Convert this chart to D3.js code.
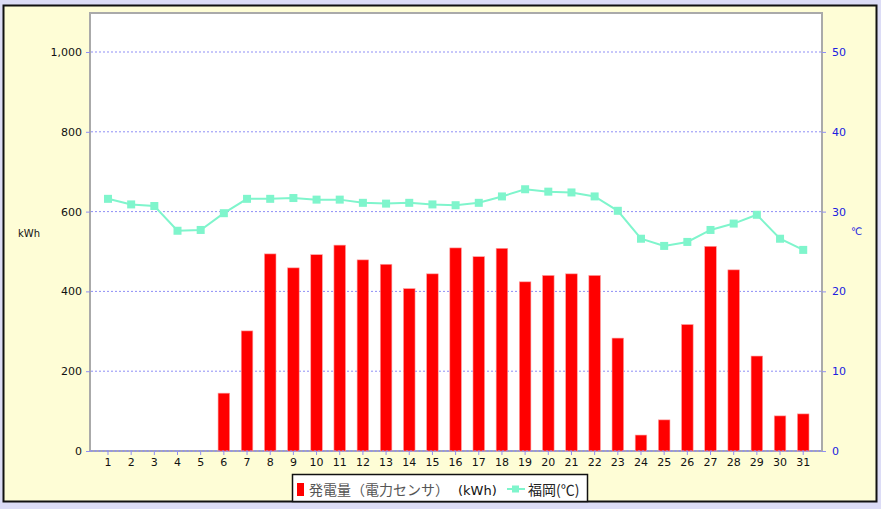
<!DOCTYPE html>
<html><head><meta charset="utf-8">
<script src="https://cdn.jsdelivr.net/npm/d3@7"></script>
<style>
html,body{margin:0;padding:0;background:#dcdcf6;}
svg{display:block;}
</style></head>
<body>
<svg id="c" width="881" height="509"></svg>
<script>
const days = d3.range(1, 32).map(String);
const power = [0,0,0,0,0,145,301,494,459,492,516,479,468,407,444,509,487,508,424,440,444,440,283,40,78,317,513,454,238,88,93];
const temp = [31.6,30.9,30.7,27.6,27.7,29.8,31.6,31.6,31.7,31.5,31.5,31.1,31.0,31.1,30.9,30.8,31.1,31.9,32.8,32.5,32.4,31.9,30.1,26.6,25.7,26.2,27.7,28.5,29.6,26.6,25.2];
const leftTicks = [0,200,400,600,800,1000];
const rightTicks = [0,10,20,30,40,50];
const legendLabels = ["発電量（電力センサ）", "(kWh)", "福岡(℃)"];

const svg = d3.select("#c");
const font = "DejaVu Sans, Verdana, sans-serif";
const cjk = "Noto Sans CJK JP, sans-serif";
const grid = "#8f8ff5";

// panel
svg.append("rect").attr("x",3.5).attr("y",5.5).attr("width",873).attr("height",496)
  .attr("fill","#fefdd6").attr("stroke","#111").attr("stroke-width",2);

const L=90, R=822, T=13, B=451;
svg.append("rect").attr("x",L).attr("y",T).attr("width",R-L).attr("height",B-T)
  .attr("fill","#fff").attr("stroke","#aaaaaa").attr("stroke-width",2);

const x = d3.scaleBand().domain(days).range([96.4, 814.8]).paddingInner(0.5).paddingOuter(0.25);
const yL = d3.scaleLinear().domain([0,1100]).range([B, B - 1100*0.399]);
const yR = d3.scaleLinear().domain([0,55]).range([B, B - 55*7.98]);

// gridlines
svg.append("g").selectAll("line").data(leftTicks).join("line")
  .attr("x1",L+1).attr("x2",R-1).attr("y1",d=>yL(d)).attr("y2",d=>yL(d))
  .attr("stroke",grid).attr("stroke-width",1).attr("stroke-dasharray","2,2");

// bars
svg.append("g").selectAll("rect").data(power).join("rect")
  .attr("x",(d,i)=>x(days[i])).attr("width",x.bandwidth())
  .attr("y",d=>yL(d)).attr("height",d=>B-yL(d))
  .attr("fill","#ff0000").attr("stroke","#ffa0a0").attr("stroke-width",0.6);

// baseline
svg.append("line").attr("x1",L).attr("x2",R).attr("y1",B).attr("y2",B)
  .attr("stroke",grid).attr("stroke-dasharray","2,2");

// line
const cx = d => x(d) + x.bandwidth()/2;
svg.append("path").datum(temp)
  .attr("d", d3.line().x((d,i)=>cx(days[i])).y(d=>yR(d)))
  .attr("fill","none").attr("stroke","#7ff5cc").attr("stroke-width",2);
svg.append("g").selectAll("rect").data(temp).join("rect")
  .attr("x",(d,i)=>cx(days[i])-4).attr("y",d=>yR(d)-4).attr("width",8).attr("height",8)
  .attr("fill","#7ff5cc");

// left axis
const gl = svg.append("g").attr("transform",`translate(${L},0)`)
  .call(d3.axisLeft(yL).tickValues(leftTicks).tickSize(4).tickPadding(4).tickFormat(d3.format(",")));
gl.select(".domain").remove();
gl.selectAll("line").attr("stroke",grid);
gl.selectAll("text").attr("font-family",font).attr("font-size",11).attr("fill","#111");

// right axis
const gr = svg.append("g").attr("transform",`translate(${R},0)`)
  .call(d3.axisRight(yR).tickValues(rightTicks).tickSize(4).tickPadding(6));
gr.select(".domain").remove();
gr.selectAll("line").attr("stroke",grid);
gr.selectAll("text").attr("font-family",font).attr("font-size",11).attr("fill","#2020e0");

// bottom axis
const gb = svg.append("g").attr("transform",`translate(0,${B})`)
  .call(d3.axisBottom(x).tickSize(4).tickPadding(3));
gb.select(".domain").remove();
gb.selectAll("line").attr("stroke",grid);
gb.selectAll("text").attr("font-family",font).attr("font-size",11).attr("fill","#111");

// axis titles
svg.append("text").attr("x",18).attr("y",237).text("kWh")
  .attr("font-family",font).attr("font-size",10).attr("fill","#111");
svg.append("text").attr("x",851).attr("y",235).text("℃")
  .attr("font-family",font).attr("font-size",10).attr("fill","#2020e0");

// legend
const lg = svg.append("g");
lg.append("rect").attr("x",292.5).attr("y",474.5).attr("width",295).attr("height",27)
  .attr("fill","#fff").attr("stroke","#111").attr("stroke-width",1.5);
lg.append("rect").attr("x",297).attr("y",483).attr("width",7).attr("height",13).attr("fill","#ff0000");
lg.append("text").attr("x",309).attr("y",495).text(legendLabels[0])
  .attr("font-family",cjk).attr("font-size",14).attr("fill","#555");
lg.append("text").attr("x",458).attr("y",495).text(legendLabels[1])
  .attr("font-family",font).attr("font-size",13).attr("fill","#111");
lg.append("line").attr("x1",507).attr("x2",525).attr("y1",489).attr("y2",489)
  .attr("stroke","#7ff5cc").attr("stroke-width",2);
lg.append("rect").attr("x",512).attr("y",485.5).attr("width",7).attr("height",7).attr("fill","#7ff5cc");
lg.append("text").attr("x",528).attr("y",495).text(legendLabels[2])
  .attr("font-family",cjk).attr("font-size",14).attr("fill","#222");
</script>
</body></html>
